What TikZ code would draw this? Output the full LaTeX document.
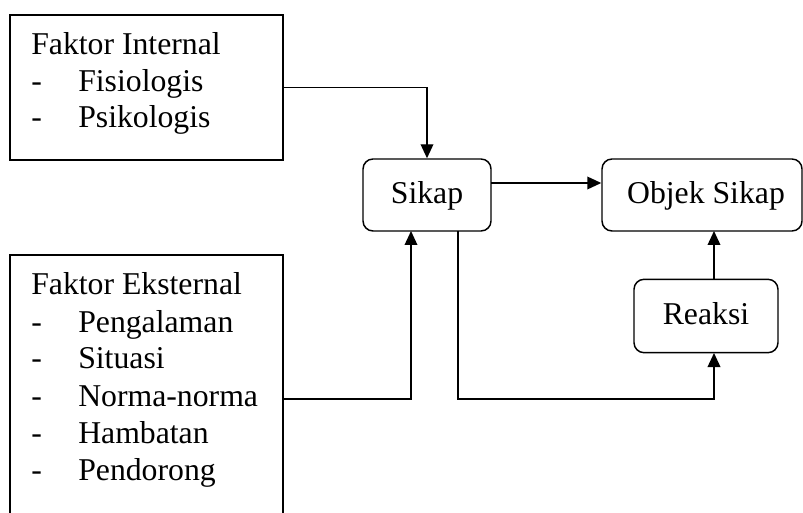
\documentclass[tikz,border=0pt]{standalone}
\usepackage{fontspec}
\setmainfont{Liberation Serif}
\usetikzlibrary{arrows.meta,calc}
\tikzset{
  px/.style={x=0.75pt,y=-0.75pt},
  line/.style={line width=1.1pt},
  arr/.style={line, -{Triangle[length=10.5pt,width=9.5pt]}},
  sqbox/.style={draw, line width=1.1pt, rectangle, inner sep=0pt},
  rbox/.style={draw, line width=1.1pt, rectangle, rounded corners=7.5pt, inner sep=0pt,
    text height=17.5pt, text depth=5pt},
  txt/.style={anchor=base west, inner sep=0pt},
}
\begin{document}
\begin{tikzpicture}[px, font=\fontsize{23.8pt}{27.5pt}\selectfont]
\useasboundingbox (0,0) rectangle (803,513);
\clip (0,0) rectangle (803,513);
% boxes
\node[sqbox, minimum width=204.75pt, minimum height=108.75pt] (int) at (146.5,87.5) {};
\node[sqbox, minimum width=204.75pt, minimum height=240pt] (ext) at (146.5,415) {};
\node[rbox, minimum width=96pt, minimum height=54pt] (sikap) at (427,195) {Sikap};
\node[rbox, minimum width=150pt, minimum height=54pt] (objek) at (702,195) {\hspace*{6pt}Objek Sikap};
\node[rbox, minimum width=108pt, minimum height=55pt] (reaksi) at (706,316) {Reaksi};
% texts internal
\node[txt] (tint) at (31,55) {Faktor Internal};
\node[txt] (d1) at (31,92) {-};
\node[txt] (fis) at (78,92) {Fisiologis};
\node[txt] (d2) at (31,128) {-};
\node[txt] (psi) at (78,128) {Psikologis};
% texts external
\node[txt] (text) at (31,295) {Faktor Eksternal};
\node[txt] (d3) at (31,332) {-};
\node[txt] (pen) at (78,332) {Pengalaman};
\node[txt] (d4) at (31,368) {-};
\node[txt] (sit) at (78,368) {Situasi};
\node[txt] (d5) at (31,406) {-};
\node[txt] (nor) at (78,406) {Norma-norma};
\node[txt] (d6) at (31,443) {-};
\node[txt] (ham) at (78,443) {Hambatan};
\node[txt] (d7) at (31,480) {-};
\node[txt] (pdr) at (78,480) {Pendorong};
% connector coordinates
\coordinate (extout) at (283,399);
\coordinate (sikin) at (411,231);
\coordinate (sikout) at (458,231);
\coordinate (reain) at (714,353);
\coordinate (reaout) at (714,279);
\coordinate (objin) at (714,231);
\coordinate (sobj) at (491,183);
% connectors
\draw[arr] (int.east) -| (sikap.north);
\draw[arr] (extout) -| (sikin);
\draw[arr] (sobj) -- (sobj -| objek.west);
\draw[arr] (reaout) -- (objin);
\draw[arr] (sikout) |- (extout -| reain) -- (reain);
\end{tikzpicture}
\end{document}
